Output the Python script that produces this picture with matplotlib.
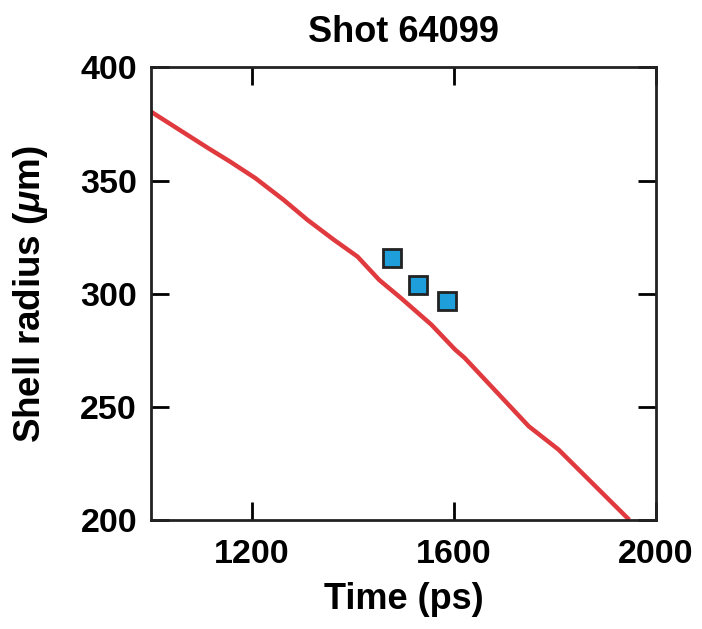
import matplotlib
matplotlib.use("Agg")
import matplotlib.pyplot as plt

# simulated shell radius trajectory
sim_time = [1000, 1114, 1157, 1207, 1263, 1310, 1363, 1409, 1452, 1495, 1555, 1602, 1621, 1748, 1807, 1947]
sim_radius = [380.5, 364.3, 358.4, 351.1, 341.5, 332.7, 323.8, 316.5, 306.2, 298.2, 286.5, 275.5, 271.8, 241.6, 231.3, 200.3]

# measured points
meas_time = [1477, 1529, 1587]
meas_radius = [315.7, 303.9, 296.8]

xticks = [1200, 1600, 2000]
yticks = [200, 250, 300, 350, 400]

plt.rcParams['font.family'] = ['Liberation Sans', 'DejaVu Sans']
plt.rcParams['font.weight'] = 'bold'
plt.rcParams['mathtext.fontset'] = 'custom'
plt.rcParams['mathtext.it'] = 'Liberation Sans:italic:bold'
plt.rcParams['mathtext.rm'] = 'Liberation Sans:bold'

fig = plt.figure(figsize=(7.02, 6.29), dpi=100)
ax = fig.add_axes([0.215, 0.1725, 0.7195, 0.7202])

ax.plot(sim_time, sim_radius, color='#e0393e', lw=3.2, solid_capstyle='butt', zorder=2)
ax.plot(meas_time, meas_radius, ls='none', marker='s', ms=12.5, mfc='#1e9fdb',
        mec='#222222', mew=2, zorder=3)

ax.set_xlim(1000, 2000)
ax.set_ylim(200, 400)
ax.set_xticks(xticks)
ax.set_yticks(yticks)
ax.tick_params(direction='in', length=13, width=2, top=True, right=True,
               labelsize=24.5)
ax.tick_params(axis='x', pad=13)
ax.tick_params(axis='y', pad=10)
for lab in ax.get_xticklabels() + ax.get_yticklabels():
    lab.set_fontweight('bold')
for s in ax.spines.values():
    s.set_linewidth(2)
    s.set_color('#222222')

ax.set_xlabel('Time (ps)', fontsize=26, fontweight='bold', labelpad=9)
ax.set_ylabel(r'Shell radius ($\mu$m)', fontsize=26.5, fontweight='bold', labelpad=22)
ax.set_title('Shot 64099', fontsize=26, fontweight='bold', pad=18)

fig.savefig('out.png', dpi=100)
